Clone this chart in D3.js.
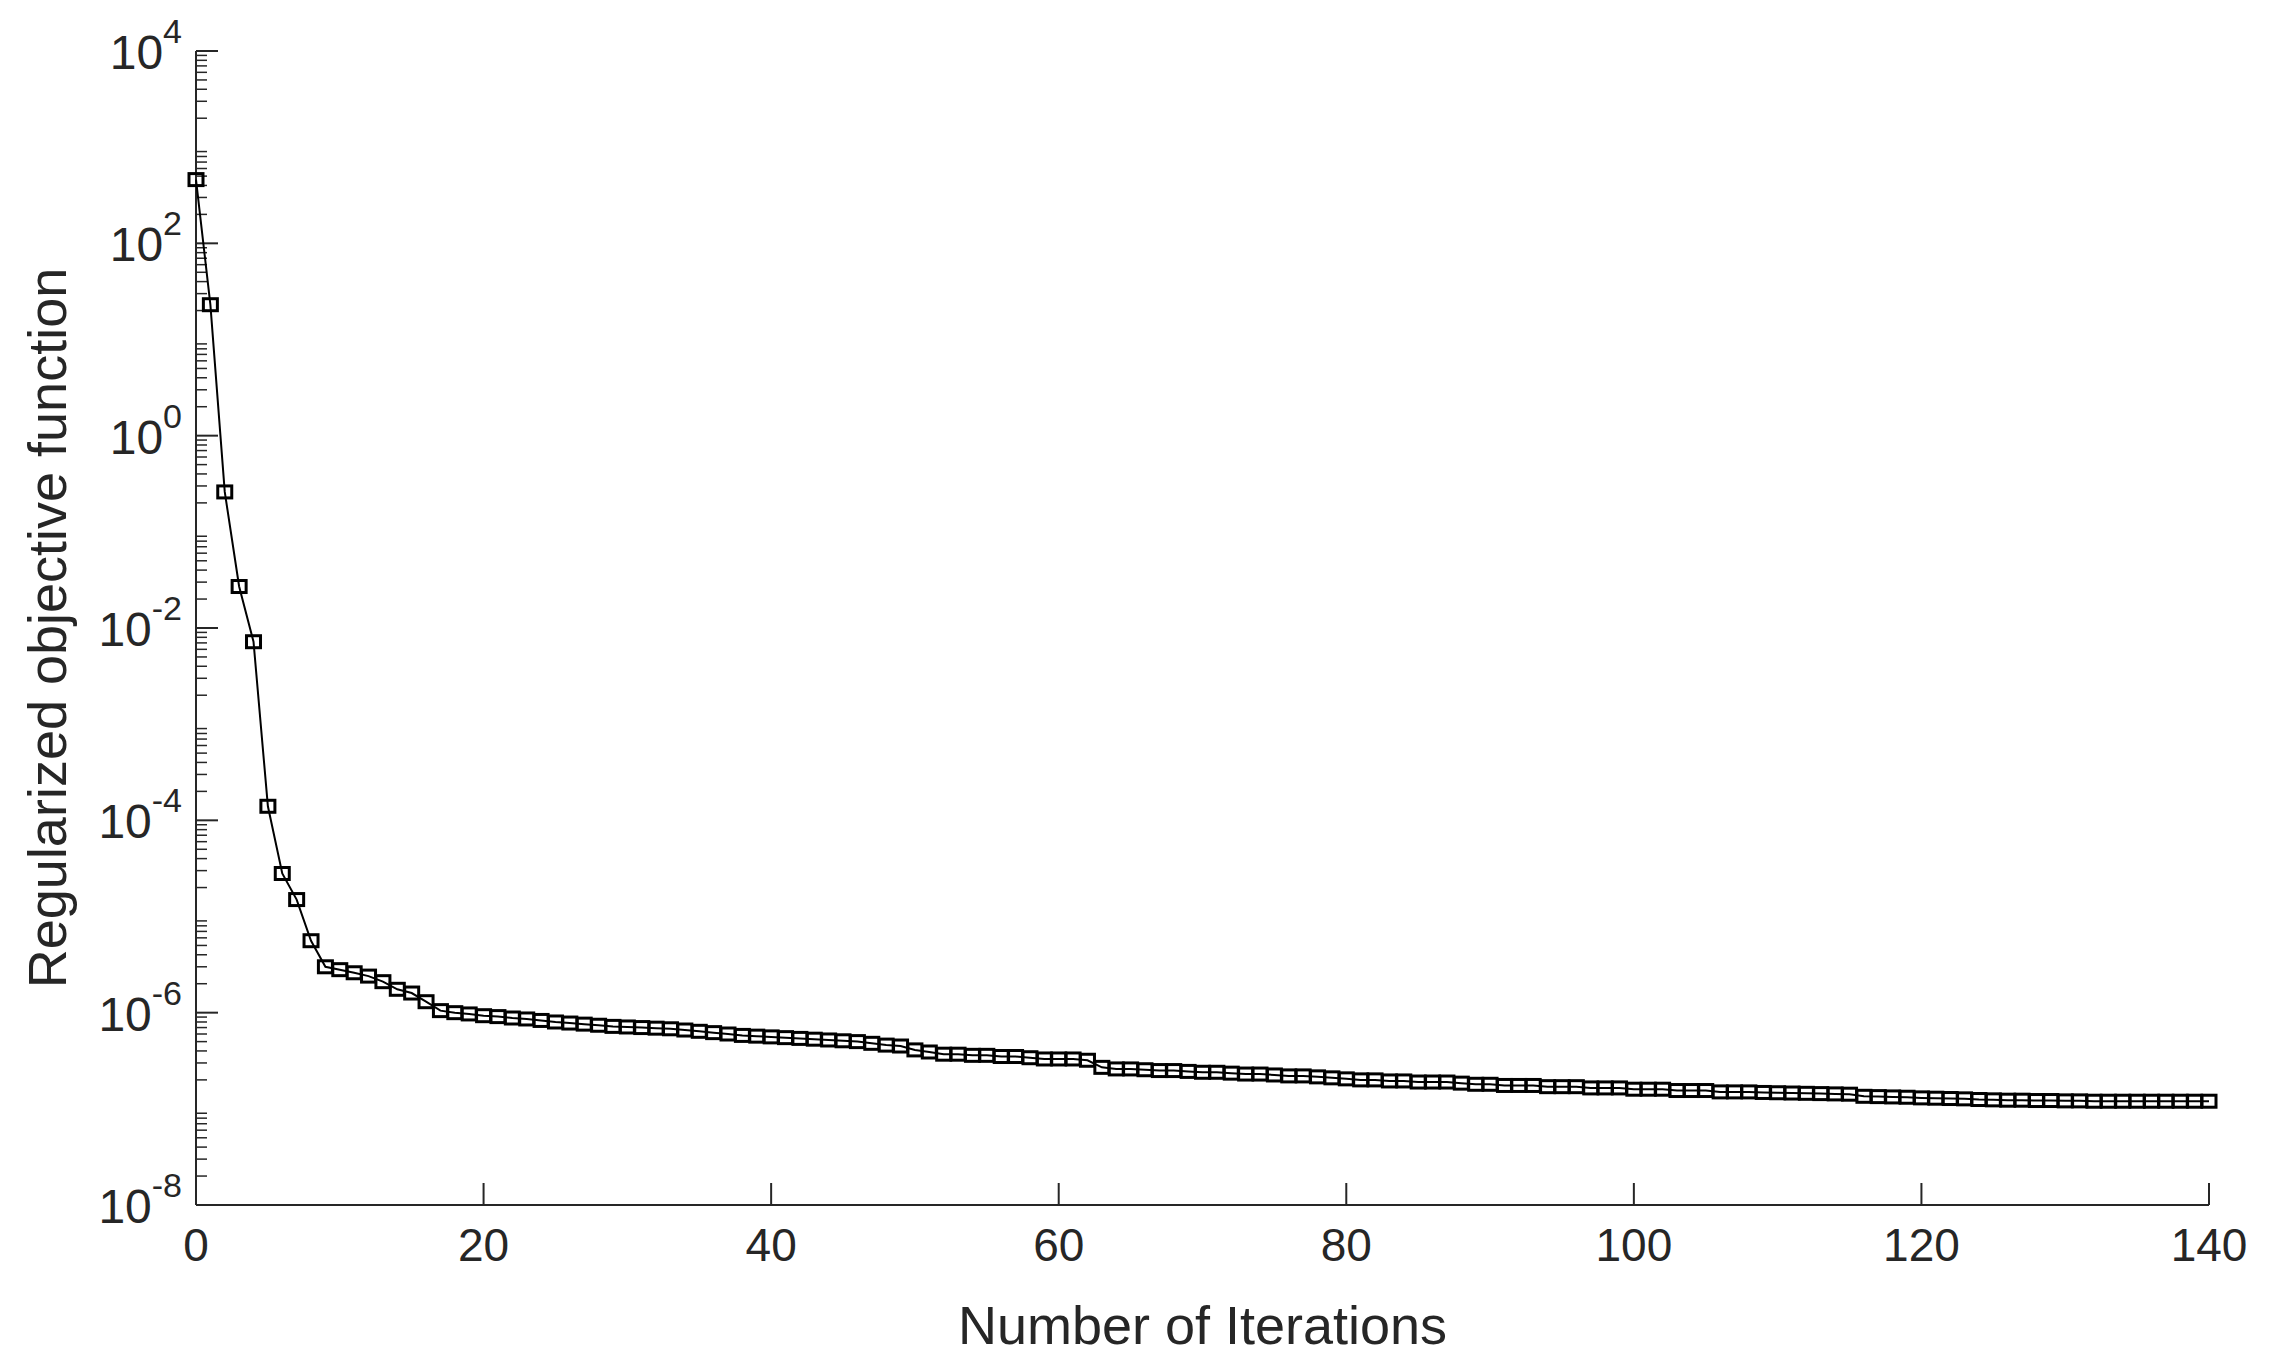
<!DOCTYPE html>
<html><head><meta charset="utf-8">
<script src="https://cdn.jsdelivr.net/npm/d3@7/dist/d3.min.js"></script>
<style>body{margin:0;background:#fff}svg{display:block}text{font-family:"Liberation Sans",Arial,sans-serif;fill:#262626}</style>
</head><body><svg id="c" width="2269" height="1371"></svg>
<script>
const xTicks=[0,20,40,60,80,100,120,140];
const yExps=[-8,-6,-4,-2,0,2,4];
const xLabel="Number of Iterations";
const yLabel="Regularized objective function";
const values=[460,23,0.26,0.027,0.0072,1.4e-4,2.8e-5,1.5e-5,5.6e-6,3.0e-6,
2.8e-6,2.6e-6,2.4e-6,2.1e-6,1.75e-6,1.6e-6,1.3e-6,1.05e-6,1.0e-6,0.97e-6,
0.93e-6,0.91e-6,0.88e-6,0.86e-6,0.83e-6,0.8e-6,0.78e-6,0.76e-6,0.74e-6,0.72e-6,
0.71e-6,0.7e-6,0.69e-6,0.68e-6,0.66e-6,0.64e-6,0.62e-6,0.6e-6,0.58e-6,0.57e-6,
0.56e-6,0.55e-6,0.54e-6,0.53e-6,0.52e-6,0.51e-6,0.5e-6,0.48e-6,0.46e-6,0.45e-6,
0.41e-6,0.39e-6,0.37e-6,0.37e-6,0.36e-6,0.36e-6,0.35e-6,0.35e-6,0.34e-6,0.33e-6,
0.33e-6,0.33e-6,0.32e-6,0.27e-6,0.26e-6,0.26e-6,0.255e-6,0.25e-6,0.25e-6,0.245e-6,
0.24e-6,0.24e-6,0.235e-6,0.23e-6,0.23e-6,0.225e-6,0.22e-6,0.22e-6,0.215e-6,0.21e-6,
0.205e-6,0.2e-6,0.2e-6,0.195e-6,0.195e-6,0.19e-6,0.19e-6,0.19e-6,0.185e-6,0.18e-6,
0.18e-6,0.175e-6,0.175e-6,0.175e-6,0.17e-6,0.17e-6,0.17e-6,0.165e-6,0.165e-6,0.165e-6,
0.16e-6,0.16e-6,0.16e-6,0.155e-6,0.155e-6,0.155e-6,0.15e-6,0.15e-6,0.15e-6,0.148e-6,
0.147e-6,0.146e-6,0.145e-6,0.144e-6,0.143e-6,0.142e-6,0.135e-6,0.134e-6,0.133e-6,0.132e-6,
0.13e-6,0.129e-6,0.128e-6,0.127e-6,0.125e-6,0.124e-6,0.123e-6,0.123e-6,0.122e-6,0.122e-6,
0.121e-6,0.121e-6,0.12e-6,0.12e-6,0.12e-6,0.12e-6,0.12e-6,0.12e-6,0.12e-6,0.12e-6,0.12e-6];

const svg=d3.select("#c");
const L=196,R=2209,T=51,B=1205;
const x=d3.scaleLinear().domain([0,140]).range([L,R]);
const y=d3.scaleLog().domain([1e-8,1e4]).range([B,T]);
const g=svg.append("g");
const col="#262626";
g.append("line").attr("x1",L).attr("x2",R).attr("y1",B).attr("y2",B).attr("stroke",col).attr("stroke-width",2);
g.append("line").attr("x1",L).attr("x2",L).attr("y1",T).attr("y2",B).attr("stroke",col).attr("stroke-width",2);
xTicks.forEach(t=>{
  g.append("line").attr("x1",x(t)).attr("x2",x(t)).attr("y1",B).attr("y2",B-22).attr("stroke",col).attr("stroke-width",2);
  g.append("text").attr("x",x(t)).attr("y",B+56).attr("text-anchor","middle").attr("font-size",46).text(t);
});
for(let e=-8;e<4;e++){for(let m=2;m<=9;m++){const v=m*Math.pow(10,e);
  g.append("line").attr("x1",L).attr("x2",L+11).attr("y1",y(v)).attr("y2",y(v)).attr("stroke",col).attr("stroke-width",1.5);}}
yExps.forEach(e=>{const v=Math.pow(10,e);
  g.append("line").attr("x1",L).attr("x2",L+22).attr("y1",y(v)).attr("y2",y(v)).attr("stroke",col).attr("stroke-width",2);
  const t=g.append("text").attr("x",L-14).attr("y",y(v)+18).attr("text-anchor","end").attr("font-size",48);
  t.append("tspan").text("10");
  t.append("tspan").attr("dy",-26).attr("font-size",34).text(e);
});
svg.append("text").attr("x",(L+R)/2).attr("y",1344).attr("text-anchor","middle").attr("font-size",54).text(xLabel);
svg.append("text").attr("transform",`translate(66,${(T+B)/2}) rotate(-90)`).attr("text-anchor","middle").attr("font-size",54).text(yLabel);
const line=d3.line().x((d,i)=>x(i)).y(d=>y(d));
g.append("path").attr("d",line(values)).attr("fill","none").attr("stroke","#000").attr("stroke-width",2);
g.selectAll("rect.m").data(values).join("rect").attr("class","m")
 .attr("x",(d,i)=>x(i)-7).attr("y",d=>y(d)-6).attr("width",14).attr("height",12)
 .attr("fill","none").attr("stroke","#000").attr("stroke-width",3);
</script></body></html>
